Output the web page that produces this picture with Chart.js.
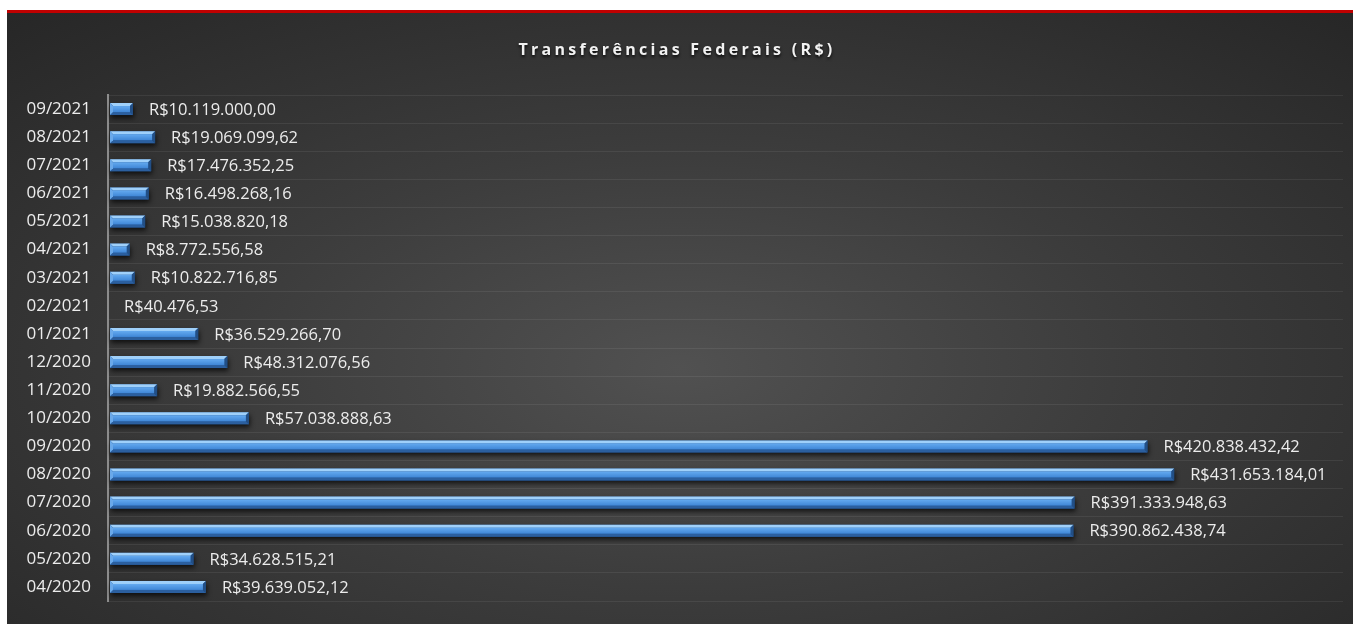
<!DOCTYPE html>
<html>
<head>
<meta charset="utf-8">
<script src="https://cdn.jsdelivr.net/npm/chart.js@4.4.0/dist/chart.umd.min.js"></script>
<style>
    html, body { margin: 0; padding: 0; background: #fff; }
    #box {
        position: absolute; left: 7px; top: 10px; width: 1346px; height: 611px;
        border-top: 3px solid #c00000;
        background: radial-gradient(ellipse 75% 80% at 50% 58%, #515151 0%, #3c3c3c 45%, #262626 100%);
    }
    #chart { display: block; }
</style>
</head>
<body>
<div id="box"><canvas id="chart" width="1346" height="611"></canvas></div>
<script>
const meses = ['04/2020', '05/2020', '06/2020', '07/2020', '08/2020', '09/2020', '10/2020', '11/2020', '12/2020',
    '01/2021', '02/2021', '03/2021', '04/2021', '05/2021', '06/2021', '07/2021', '08/2021', '09/2021'];
const valores = [39639052.12, 34628515.21, 390862438.74, 391333948.63, 431653184.01, 420838432.42, 57038888.63,
    19882566.55, 48312076.56, 36529266.70, 40476.53, 10822716.85, 8772556.58, 15038820.18, 16498268.16,
    17476352.25, 19069099.62, 10119000.00];
const titulo = 'Transferências Federais (R$)';

function formatBRL(v) {
    return 'R$' + v.toLocaleString('pt-BR', { minimumFractionDigits: 2, maximumFractionDigits: 2 });
}

function poly(ctx, pts, color) {
    ctx.beginPath();
    ctx.moveTo(pts[0][0], pts[0][1]);
    for (let k = 1; k < pts.length; k++) ctx.lineTo(pts[k][0], pts[k][1]);
    ctx.closePath();
    ctx.fillStyle = color;
    ctx.fill();
}

// bevel look + value labels
const barStyle = {
    id: 'barStyle',
    afterDatasetsDraw(chart) {
        const ctx = chart.ctx;
        const meta = chart.getDatasetMeta(0);
        meta.data.forEach((el, i) => {
            const p = el.getProps(['x', 'y', 'base', 'height'], true);
            const t = p.y - p.height / 2;
            const b = p.y + p.height / 2;
            const l = p.base + 2;
            const r = p.x;
            const w = r - l;
            if (w > 1) {
                const bv = Math.min(3, w / 2);
                ctx.save();
                ctx.shadowColor = 'rgba(0,0,0,0.7)';
                ctx.shadowBlur = 5;
                ctx.shadowOffsetY = 3;
                ctx.shadowOffsetX = 1;
                ctx.fillStyle = '#1f4f8a';
                ctx.fillRect(l, t, w, p.height);
                ctx.restore();
                poly(ctx, [[l, t], [r, t], [r - bv, t + bv], [l + bv, t + bv]], '#9fd0fa');
                poly(ctx, [[l, b], [r, b], [r - bv, b - bv], [l + bv, b - bv]], '#2b5f9f');
                poly(ctx, [[l, t], [l + bv, t + bv], [l + bv, b - bv], [l, b]], '#6aa9ea');
                poly(ctx, [[r, t], [r - bv, t + bv], [r - bv, b - bv], [r, b]], '#224f86');
                const g = ctx.createLinearGradient(0, t + bv, 0, b - bv);
                g.addColorStop(0, '#64aaf0');
                g.addColorStop(1, '#3f86d6');
                ctx.fillStyle = g;
                ctx.fillRect(l + bv, t + bv, w - 2 * bv, p.height - 2 * bv);
            }
            ctx.save();
            ctx.font = '16.5px "Open Sans"';
            ctx.fillStyle = '#ececec';
            ctx.textAlign = 'left';
            ctx.textBaseline = 'middle';
            ctx.fillText(formatBRL(valores[i]), p.x + 16, p.y + 1);
            ctx.restore();
        });
    }
};

const spacedTitle = {
    id: 'spacedTitle',
    afterDraw(chart) {
        const ctx = chart.ctx;
        ctx.save();
        ctx.font = 'bold 16px "Open Sans"';
        ctx.letterSpacing = '3.3px';
        ctx.fillStyle = '#f2f2f2';
        ctx.textAlign = 'center';
        ctx.textBaseline = 'middle';
        ctx.shadowColor = 'rgba(0,0,0,0.8)';
        ctx.shadowBlur = 3;
        ctx.shadowOffsetY = 2;
        ctx.fillText(titulo, 670, 37);
        ctx.restore();
    }
};

const ctx = document.getElementById('chart').getContext('2d');
new Chart(ctx, {
    type: 'bar',
    data: {
        labels: meses,
        datasets: [{
            label: titulo,
            data: valores,
            backgroundColor: 'rgba(0,0,0,0)',
            barThickness: 12
        }]
    },
    options: {
        indexAxis: 'y',
        responsive: false,
        animation: false,
        layout: { padding: { top: 82, bottom: 23, right: 10, left: 0 } },
        plugins: {
            legend: { display: false },
            title: { display: false },
            tooltip: { enabled: false }
        },
        scales: {
            x: {
                display: false,
                min: 0,
                max: 500000000
            },
            y: {
                reverse: true,
                afterFit(scale) { scale.width = 101; },
                border: { display: true, color: '#8c8c8c', width: 2 },
                grid: {
                    color: 'rgba(255,255,255,0.07)',
                    drawTicks: true,
                    tickLength: 17,
                    tickColor: 'rgba(0,0,0,0)'
                },
                ticks: {
                    color: '#ececec',
                    padding: 0,
                    font: { family: 'Open Sans', size: 17 }
                }
            }
        }
    },
    plugins: [barStyle, spacedTitle]
});
</script>
</body>
</html>
